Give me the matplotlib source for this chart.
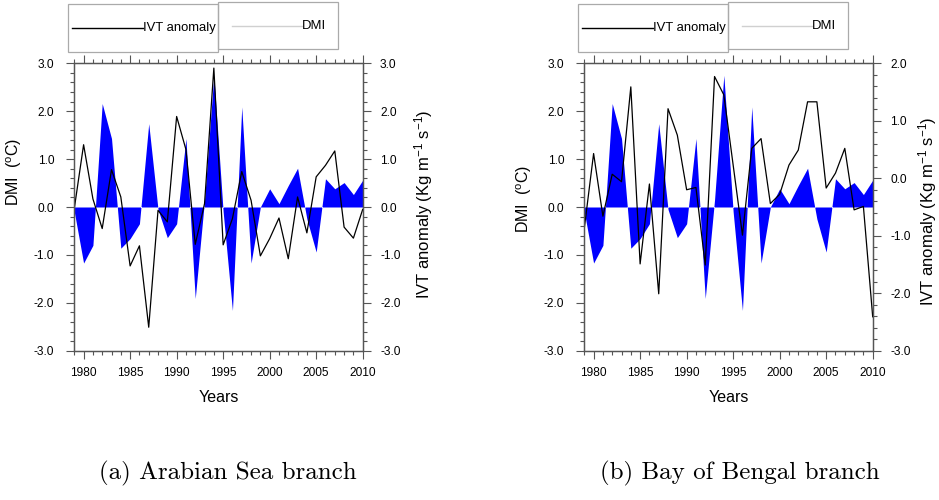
import numpy as np
import matplotlib
matplotlib.use("Agg")
import matplotlib.pyplot as plt
from matplotlib.patches import Rectangle
from matplotlib.lines import Line2D
from matplotlib.ticker import MultipleLocator, FormatStrFormatter

plt.rcParams['font.family'] = ['Liberation Sans', 'DejaVu Sans']
plt.rcParams['mathtext.fontset'] = 'custom'
plt.rcParams['mathtext.rm'] = 'Liberation Sans'
plt.rcParams['mathtext.it'] = 'Liberation Sans:italic'

# Data, one value per year 1979-2010
years = np.arange(1979, 2011)

dmi = [-0.10, -1.17, -0.80, 2.16, 1.43, -0.86, -0.66, -0.35, 1.74, -0.05,
       -0.64, -0.35, 1.43, -1.91, 0.15, 2.75, -0.10, -2.16, 2.09, -1.17,
       0.00, 0.38, 0.07, 0.45, 0.81, -0.25, -0.94, 0.59, 0.38, 0.51,
       0.26, 0.56]

ivt_arabian = [-0.03, 1.30, 0.17, -0.45, 0.78, 0.21, -1.23, -0.81, -2.51, -0.07,
               -0.31, 1.89, 1.20, -0.78, 0.07, 2.90, -0.79, -0.24, 0.74, 0.14,
               -1.02, -0.66, -0.23, -1.08, 0.21, -0.54, 0.63, 0.87, 1.17, -0.42,
               -0.65, -0.05]

ivt_bengal = [-0.87, 0.43, -0.66, 0.07, -0.06, 1.59, -1.49, -0.10, -2.01, 1.21,
              0.75, -0.20, -0.16, -1.51, 1.77, 1.45, 0.23, -0.99, 0.52, 0.69,
              -0.44, -0.28, 0.23, 0.49, 1.33, 1.33, -0.17, 0.09, 0.52, -0.55,
              -0.49, -2.41]

captions = ["(a) Arabian Sea branch", "(b) Bay of Bengal branch"]
ivt_limits = [(-3.0, 3.0), (-3.0, 2.0)]

W, H = 939, 500
fig = plt.figure(figsize=(W / 100, H / 100), dpi=100)

AX_COLOR = '#555555'


def px(x, y):
    # pixel position (from top-left) -> figure fraction
    return x / W, 1 - y / H


def style_axis(a):
    for s in a.spines.values():
        s.set_color(AX_COLOR)
        s.set_linewidth(0.9)
    a.tick_params(which='both', direction='out', colors=AX_COLOR,
                  labelcolor='black', labelsize=8.6, width=0.8)
    a.tick_params(which='major', length=5.5)
    a.tick_params(which='minor', length=3)


def draw_legend(dx):
    box1 = Rectangle(px(68.3 + dx, 52.3), 150 / W, 48 / H, transform=fig.transFigure,
                     fill=False, edgecolor='#aaaaaa', lw=0.9)
    box2 = Rectangle(px(218.3 + dx, 49.3), 120 / W, 47.6 / H, transform=fig.transFigure,
                     fill=False, edgecolor='#aaaaaa', lw=0.9)
    fig.patches.extend([box1, box2])
    x0, y0 = px(71.7 + dx, 27.7)
    x1, _ = px(142.7 + dx, 27.7)
    fig.lines.append(Line2D([x0, x1], [y0, y0], transform=fig.transFigure, color='black', lw=1.0))
    fig.text(x1, y0, "IVT anomaly", fontsize=9.4, va='center', ha='left')
    x0, y0 = px(231.7 + dx, 26)
    x1, _ = px(301.7 + dx, 26)
    fig.lines.append(Line2D([x0, x1], [y0, y0], transform=fig.transFigure, color='#d0d0d0', lw=1.0))
    fig.text(x1, y0, "DMI", fontsize=9.4, va='center', ha='left')


# left edge (px), ivt series, DMI label y, IVT label x, IVT label y, caption centre x
panels = [(74.3, ivt_arabian, 0.622, 1.170, 0.509, 228),
          (584.3, ivt_bengal, 0.528, 1.150, 0.484, 740)]

for i, (left_px, ivt, dmi_ly, ivt_lx, ivt_ly, cap_x) in enumerate(panels):
    ax = fig.add_axes([left_px / W, 1 - 350.7 / H, 288.4 / W, 287.4 / H])
    ax.fill_between(years, 0, dmi, color='blue', lw=0)
    ax.set_xlim(1979, 2010)
    ax.set_ylim(-3, 3)
    ax.xaxis.set_major_locator(MultipleLocator(5))
    ax.xaxis.set_minor_locator(MultipleLocator(1))
    ax.yaxis.set_major_locator(MultipleLocator(1))
    ax.yaxis.set_minor_locator(MultipleLocator(0.2))
    ax.yaxis.set_major_formatter(FormatStrFormatter('%.1f'))
    style_axis(ax)
    ax.tick_params(axis='x', which='both', top=True, pad=6)
    ax.tick_params(axis='y', which='both', right=False, pad=9)
    ax.set_xlabel("Years", fontsize=11.5)
    ax.xaxis.set_label_coords(0.5, -0.137)
    ax.set_ylabel(r"DMI  ($^{\mathrm{o}}$C)", fontsize=11.5)
    ax.yaxis.set_label_coords(-0.173, dmi_ly)

    ax2 = ax.twinx()
    ax2.plot(years, ivt, color='black', lw=0.9)
    ax2.set_ylim(*ivt_limits[i])
    ax2.yaxis.set_major_locator(MultipleLocator(1))
    ax2.yaxis.set_minor_locator(MultipleLocator(0.2))
    ax2.yaxis.set_major_formatter(FormatStrFormatter('%.1f'))
    style_axis(ax2)
    ax2.tick_params(axis='y', which='both', pad=7)
    ax2.set_ylabel(r"IVT anomaly (Kg m$^{-1}$ s$^{-1}$)", fontsize=12)
    ax2.yaxis.set_label_coords(ivt_lx, ivt_ly)

    draw_legend(left_px - 74.3)
    fig.text(cap_x / W, 1 - 473 / H, captions[i], fontsize=18,
             family='cmr10', ha='center', va='center')

fig.savefig("out.png", dpi=100)
